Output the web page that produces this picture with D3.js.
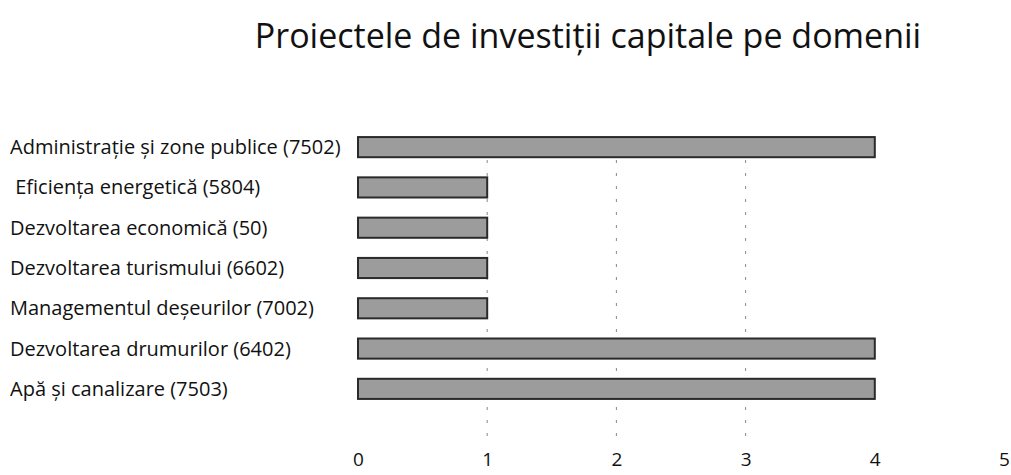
<!DOCTYPE html>
<html>
<head>
<meta charset="utf-8">
<script src="https://cdn.jsdelivr.net/npm/d3@7"></script>
<style>
  body { margin: 0; background: #fff; }
  text { font-family: "Open Sans", "DejaVu Sans", sans-serif; fill: #111; }
</style>
</head>
<body>
<div id="chart"></div>
<script>
// categories top to bottom
var categories = [
  "Administrație și zone publice (7502)",
  " Eficiența energetică (5804)",
  "Dezvoltarea economică (50)",
  "Dezvoltarea turismului (6602)",
  "Managementul deșeurilor (7002)",
  "Dezvoltarea drumurilor (6402)",
  "Apă și canalizare (7503)"
];
var values = [4, 1, 1, 1, 1, 4, 4];
var ticks = [0, 1, 2, 3, 4, 5];

var width = 1011;
var height = 475;

var svg = d3.select('#chart')
    .append('svg')
        .attr('width', width)
        .attr('height', height);

var x = d3.scaleLinear()
    .domain([0, 5])
    .range([358, 1004]);

var y = d3.scaleBand()
    .domain(categories)
    .range([127, 409])
    .paddingInner(0.5)
    .paddingOuter(0.25);

// faint dashed grid lines from the scan
svg.selectAll('.grid')
    .data(ticks.filter(function(t) { return t > 0 && t < 4; }))
    .enter()
        .append('line')
        .attr('class', 'grid')
        .attr('x1', function(d) { return x(d); })
        .attr('x2', function(d) { return x(d); })
        .attr('y1', 160)
        .attr('y2', 440)
        .style('stroke', '#888')
        .style('stroke-width', 1)
        .style('stroke-dasharray', '3,10');

svg.selectAll('.bar')
    .data(values)
    .enter()
        .append('rect')
        .attr('class', 'bar')
        .attr('x', x(0))
        .attr('y', function(d, i) { return y(categories[i]); })
        .attr('width', function(d) { return x(d) - x(0); })
        .attr('height', y.bandwidth())
        .style('fill', '#9c9c9c')
        .style('stroke', '#2a2a2a')
        .style('stroke-width', 2);

svg.selectAll('.cat')
    .data(categories)
    .enter()
        .append('text')
        .attr('class', 'cat')
        .attr('x', 10)
        .attr('y', function(d) { return y(d) + y.bandwidth() / 2; })
        .attr('dy', '0.35em')
        .style('font-size', '20px')
        .style('white-space', 'pre')
        .text(function(d) { return d; });

var xAxis = d3.axisBottom(x)
    .tickValues(ticks)
    .tickFormat(d3.format('d'))
    .tickSize(0)
    .tickPadding(0);

var ax = svg.append('g')
    .attr('transform', 'translate(0,452)')
    .call(xAxis);
ax.select('.domain').remove();
ax.selectAll('text')
    .style('font-size', '19px')
    .style('font-family', '"Open Sans", sans-serif')
    .style('fill', '#111');

svg.append('text')
    .attr('x', 588)
    .attr('y', 48)
    .attr('text-anchor', 'middle')
    .style('font-size', '34px')
    .text('Proiectele de investiții capitale pe domenii');
</script>
</body>
</html>
